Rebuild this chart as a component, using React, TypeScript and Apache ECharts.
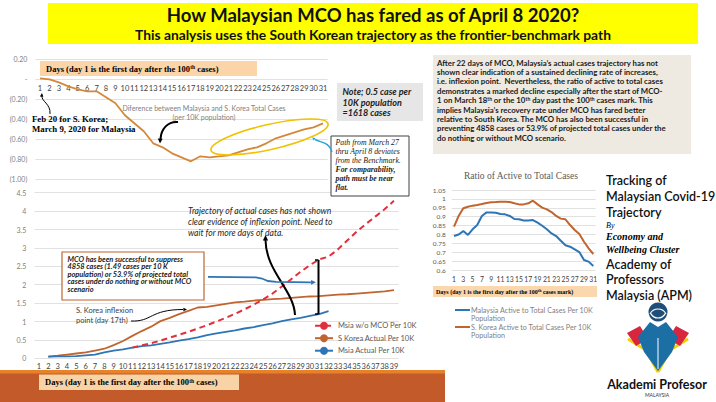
import React, { useEffect, useRef } from 'react';
import * as echarts from 'echarts';

// ---------- data ----------
const daysTop = Array.from({ length: 31 }, (_, i) => String(i + 1));
const daysBottom = Array.from({ length: 39 }, (_, i) => String(i + 1));
const daysRatio = Array.from({ length: 31 }, (_, i) => String(i + 1));

// Difference between Malaysia and S. Korea total cases (per 10K)
const diffValues = [0.01, 0.0, -0.03, -0.07, -0.1, -0.12, -0.12, -0.18, -0.24, -0.36, -0.44, -0.52, -0.64, -0.68, -0.74, -0.78, -0.82, -0.77, -0.78, -0.77, -0.76, -0.73, -0.7, -0.68, -0.64, -0.59, -0.56, -0.53, -0.5, -0.48, -0.44];

// Per 10K cumulative cases
const msiaNoMco = [null, null, null, null, null, null, null, null, null, null, 0.29, 0.35, 0.41, 0.48, 0.56, 0.64, 0.72, 0.81, 0.9, 1.0, 1.1, 1.21, 1.33, 1.46, 1.6, 1.76, 1.95, 2.15, 2.35, 2.53, 2.69, 2.76, 2.96, 3.2, 3.44, 3.65, 3.85, 4.05, 4.28];
const skoreaActual = [null, 0.045, 0.07, 0.1, 0.13, 0.16, 0.21, 0.26, 0.36, 0.47, 0.61, 0.74, 0.86, 1.01, 1.1, 1.2, 1.29, 1.38, 1.4, 1.44, 1.48, 1.52, 1.54, 1.57, 1.59, 1.61, 1.62, 1.64, 1.66, 1.68, 1.69, 1.71, 1.73, 1.74, 1.76, 1.78, 1.8, 1.82, 1.85];
const msiaActual = [null, 0.045, 0.05, 0.05, 0.06, 0.08, 0.1, 0.16, 0.21, 0.24, 0.29, 0.33, 0.35, 0.39, 0.43, 0.48, 0.52, 0.57, 0.63, 0.68, 0.72, 0.76, 0.81, 0.85, 0.9, 0.95, 1.01, 1.06, 1.1, 1.15, 1.2, 1.28];

// Ratio of active to total cases
const ratioMsia = [0.791, 0.8, 0.819, 0.797, 0.829, 0.853, 0.904, 0.924, 0.924, 0.922, 0.915, 0.913, 0.904, 0.887, 0.885, 0.878, 0.878, 0.881, 0.866, 0.849, 0.829, 0.806, 0.791, 0.765, 0.739, 0.731, 0.716, 0.701, 0.656, 0.647, 0.622];
const ratioKorea = [0.844, 0.904, 0.947, 0.956, 0.962, 0.966, 0.971, 0.977, 0.981, 0.982, 0.984, 0.984, 0.982, 0.975, 0.969, 0.969, 0.975, 0.99, 0.969, 0.951, 0.941, 0.926, 0.904, 0.889, 0.885, 0.853, 0.825, 0.802, 0.759, 0.722, 0.69];

const legendNames = ['Msia w/o MCO Per 10K', 'S Korea Actual Per 10K', 'Msia Actual Per 10K'];
const ratioNames = ['Malaysia Active to Total Cases Per 10K Population', 'S. Korea Active to Total Cases Per 10K Population'];

// ---------- styles ----------
const SANS = 'Lato';
const SERIF = 'Liberation Serif';
const C_ORANGE = '#D4883A';
const C_BROWN = '#C0652F';
const C_BLUE = '#2E75B6';
const C_RED = '#E2303A';
const GRID = '#D9D9D9';

function txt(x: number, y: number, text: string, o: any = {}) {
  return {
    type: 'text', x, y, silent: true, z: 50,
    style: {
      text,
      fill: o.fill || '#000',
      fontSize: o.size || 8,
      fontFamily: o.family || SANS,
      fontWeight: o.weight || 'normal',
      fontStyle: o.style || 'normal',
      align: o.align || 'left',
      verticalAlign: o.va || 'middle',
      rich: o.rich,
    },
  };
}
function rect(x: number, y: number, w: number, h: number, style: any, z = 40) {
  return { type: 'rect', silent: true, z, shape: { x, y, width: w, height: h }, style };
}
function head(x: number, y: number, ang: number, size: number, color: string) {
  const a1 = ang + Math.PI - 0.45;
  const a2 = ang + Math.PI + 0.45;
  return {
    type: 'polygon', silent: true, z: 55,
    shape: { points: [[x, y], [x + size * Math.cos(a1), y + size * Math.sin(a1)], [x + size * Math.cos(a2), y + size * Math.sin(a2)]] },
    style: { fill: color },
  };
}
function bez(p: number[], color: string, w: number) {
  return {
    type: 'bezierCurve', silent: true, z: 55,
    shape: { x1: p[0], y1: p[1], cpx1: p[2], cpy1: p[3], cpx2: p[4], cpy2: p[5], x2: p[6], y2: p[7] },
    style: { stroke: color, lineWidth: w, fill: null },
  };
}
function sup(size: number, family: string, weight = 'bold', fill = '#000', style = 'normal') {
  return { s: { fontSize: size, fontFamily: family, fontWeight: weight, fill, fontStyle: style, verticalAlign: 'top' } };
}

const boxText = [
  'After 22 days of MCO, Malaysia\u2019s actual cases trajectory has not',
  'shown clear indication of a sustained declining rate of increases,',
  'i.e. inflexion point.  Nevertheless, the ratio of active to total cases',
  'demonstrates a marked decline especially after the start of MCO-',
  '1 on March 18{s|th} or the 10{s|th} day past the 100{s|th} cases mark. This',
  'implies Malaysia\u2019s recovery rate under MCO has fared better',
  'relative to South Korea. The MCO has also been successful in',
  'preventing 4858 cases or 53.9% of projected total cases under the',
  'do nothing or without MCO scenario.',
];

function buildGraphics() {
  const g: any[] = [];
  // banner
  g.push(rect(48, 3, 650, 41, { fill: '#FFFF00' }, 1));
  g.push(txt(373, 15.2, 'How Malaysian MCO has fared as of April 8 2020?', { size: 18.5, weight: 'bold', align: 'center', fill: '#111' }));
  g.push(txt(373, 34.2, 'This analysis uses the South Korean trajectory as the frontier-benchmark path', { size: 13.8, weight: 'bold', align: 'center', fill: '#111' }));

  // top chart header
  g.push(rect(40, 61, 217, 15, { fill: '#FBD5A8' }));
  g.push(txt(46, 68.5, 'Days (day 1 is the first day after the 100{s|th} cases)', { size: 8.5, family: SERIF, weight: 'bold', rich: sup(5.5, SERIF) }));
  g.push(txt(32, 118.7, 'Feb 20 for S. Korea;', { size: 8.8, family: SERIF, weight: 'bold' }));
  g.push(txt(32, 128.7, 'March 9, 2020 for Malaysia', { size: 8.8, family: SERIF, weight: 'bold' }));
  g.push(bez([50, 114, 51, 104, 41, 101, 42, 96], '#000', 1));
  g.push(head(42, 93, -Math.PI / 2 + 0.1, 4, '#000'));
  g.push(txt(204, 108.3, 'Diference between Malaysia and S. Korea Total Cases', { size: 7, align: 'center', fill: '#808080' }));
  g.push(txt(204, 117.3, '(per 10K population)', { size: 7, align: 'center', fill: '#808080' }));
  g.push(bez([178, 122, 168, 121, 161, 129, 160.5, 139], '#000', 2));
  g.push(head(160, 143.5, Math.PI / 2 + 0.05, 5.5, '#000'));
  g.push({ type: 'ellipse', silent: true, z: 45, x: 269.5, y: 137, rotation: 0.223, shape: { cx: 0, cy: 0, rx: 60, ry: 12.5 }, style: { stroke: '#F2C200', lineWidth: 1.6, fill: null } });
  g.push(bez([315, 139.5, 322, 143, 329, 142, 332, 152], '#29A3DA', 1.5));
  g.push(head(312, 137.5, Math.PI + 0.6, 3.5, '#29A3DA'));
  // note box
  g.push(rect(337, 83, 86, 38, { fill: '#E7E6E6' }));
  g.push(txt(342.5, 91.7, 'Note; 0.5 case per', { size: 9, weight: 'bold', style: 'italic', fill: '#222' }));
  g.push(txt(342.5, 102.3, '10K population', { size: 9, weight: 'bold', style: 'italic', fill: '#222' }));
  g.push(txt(342.5, 112.7, '=1618 cases', { size: 9, weight: 'bold', style: 'italic', fill: '#222' }));
  // path box
  g.push(rect(331, 136, 78, 60, { fill: '#fff', stroke: '#404040', lineWidth: 1 }));
  const pathLines = ['Path from March 27', 'thru April 8 deviates', 'from the Benchmark.', 'For comparability,', 'path must be near', 'flat.'];
  pathLines.forEach((l, i) => g.push(txt(335.5, 142.7 + i * 9, l, { size: 7.8, family: SERIF, style: 'italic', weight: i >= 3 ? 'bold' : 'normal', fill: '#222' })));

  // bottom chart annotations
  const traj = ['Trajectory of actual cases has not shown', 'clear evidence of inflexion point. Need to', 'wait for more days of data.'];
  traj.forEach((l, i) => g.push(txt(188, 211 + i * 10.8, l, { size: 8.6, style: 'italic', fill: '#262626' })));
  g.push(bez([295, 315, 294, 290, 266, 272, 265.5, 240], '#000', 2));
  g.push(head(265.5, 235, -Math.PI / 2, 6, '#000'));
  g.push({ type: 'line', silent: true, z: 55, shape: { x1: 318.5, y1: 260, x2: 318.5, y2: 314 }, style: { stroke: '#000', lineWidth: 2 } });
  g.push({ type: 'line', silent: true, z: 55, shape: { x1: 315, y1: 260, x2: 318.5, y2: 260 }, style: { stroke: '#000', lineWidth: 1.5 } });
  g.push({ type: 'line', silent: true, z: 55, shape: { x1: 315, y1: 314, x2: 318.5, y2: 314 }, style: { stroke: '#000', lineWidth: 1.5 } });
  g.push({ type: 'polyline', silent: true, z: 55, shape: { points: [[208, 276.8], [256, 277.3], [262, 278.5], [268, 281], [276, 281.8], [311, 282.3]] }, style: { stroke: C_BLUE, lineWidth: 1.8, fill: null } });
  g.push(head(316, 282.3, 0, 5.5, C_BLUE));
  // MCO box
  g.push(rect(62, 252, 142, 48, { fill: '#fff', stroke: C_BROWN, lineWidth: 1.2 }));
  const mco = ['MCO has been successful to suppress', '4858 cases (1.49 cases per 10 K', 'population) or 53.9% of projected total', 'cases under do nothing or without MCO', 'scenario'];
  mco.forEach((l, i) => g.push(txt(67.5, 259 + i * 7.6, l, { size: 7.4, weight: 'bold', style: 'italic', fill: '#1a1a1a' })));
  g.push(txt(76, 310, 'S. Korea inflexion', { size: 7.5, fill: '#404040' }));
  g.push(txt(76, 320.7, 'point (day 17th)', { size: 7.5, fill: '#404040' }));
  g.push(bez([131, 321, 152, 322, 150, 309.5, 183, 309.5], '#000', 1));
  g.push(head(187, 309.5, 0, 4, '#000'));

  // bottom band
  g.push(rect(0, 370, 445, 4, { fill: '#E8822A' }, 5));
  g.push(rect(0, 373.5, 445, 28.5, { fill: '#C35A29' }, 5));
  g.push(rect(39, 374.5, 200, 15.5, { fill: '#F8D3A5' }, 6));
  g.push(txt(45, 382, 'Days (day 1 is the first day after the 100{s|th} cases)', { size: 8.5, family: SERIF, weight: 'bold', rich: sup(5.5, SERIF) }));

  // right text box
  g.push(rect(433, 55, 258, 99, { fill: '#EEE9E1' }, 5));
  boxText.forEach((l, i) => g.push(txt(437, 62.5 + i * 9.4, l, { size: 7.8, weight: 'bold', fill: '#1a1a1a', rich: sup(5, SANS, 'bold', '#1a1a1a') })));

  // ratio chart
  g.push(txt(521, 176, 'Ratio of Active to Total Cases', { size: 9.5, family: SERIF, align: 'center', fill: '#595959' }));
  g.push(rect(433, 286, 164, 11, { fill: '#FAD7AC' }));
  g.push(txt(436, 291.5, 'Days (day 1 is the first day after the 100{s|th} cases mark)', { size: 6, family: SERIF, weight: 'bold', rich: sup(4, SERIF) }));
  // ratio legend
  g.push({ type: 'line', silent: true, z: 50, shape: { x1: 455, y1: 310, x2: 470, y2: 310 }, style: { stroke: C_BLUE, lineWidth: 2 } });
  g.push(txt(471, 310, 'Malaysia Active to Total Cases Per 10K', { size: 7.2, fill: '#7F7F7F' }));
  g.push(txt(471, 318, 'Population', { size: 7.2, fill: '#7F7F7F' }));
  g.push({ type: 'line', silent: true, z: 50, shape: { x1: 455, y1: 327, x2: 470, y2: 327 }, style: { stroke: C_BROWN, lineWidth: 2 } });
  g.push(txt(471, 327, 'S. Korea Active to Total Cases Per 10K', { size: 7.2, fill: '#7F7F7F' }));
  g.push(txt(471, 335, 'Population', { size: 7.2, fill: '#7F7F7F' }));

  // tracking block
  const big = { size: 12.5, weight: 600, fill: '#111' };
  g.push(txt(606, 180, 'Tracking of', big));
  g.push(txt(606, 196, 'Malaysian Covid-19', big));
  g.push(txt(606, 212, 'Trajectory', big));
  g.push(txt(606, 225, 'By', { size: 8, family: SERIF, style: 'italic' }));
  g.push(txt(606, 236.5, 'Economy and', { size: 10, family: SERIF, style: 'italic', weight: 'bold' }));
  g.push(txt(606, 249, 'Wellbeing Cluster', { size: 10, family: SERIF, style: 'italic', weight: 'bold' }));
  g.push(txt(606, 264, 'Academy of', big));
  g.push(txt(606, 279.5, 'Professors', big));
  g.push(txt(606, 295, 'Malaysia (APM)', big));

  // logo
  g.push({ type: 'polyline', silent: true, z: 48, shape: { points: [[628, 339], [646, 350], [658, 372]] }, style: { stroke: '#F4D000', lineWidth: 3, fill: null } });
  g.push({ type: 'polyline', silent: true, z: 48, shape: { points: [[688, 339], [670, 350], [658, 372]] }, style: { stroke: '#F4D000', lineWidth: 3, fill: null } });
  g.push({ type: 'polygon', silent: true, z: 49, shape: { points: [[627, 333], [640, 326], [648, 339], [636, 346]] }, style: { fill: '#D7263D' } });
  g.push({ type: 'polygon', silent: true, z: 49, shape: { points: [[689, 333], [676, 326], [668, 339], [680, 346]] }, style: { fill: '#D7263D' } });
  g.push({ type: 'polygon', silent: true, z: 50, shape: { points: [[638, 337], [650, 322], [658, 327], [666, 322], [678, 337], [672, 352], [658, 371], [644, 352]] }, style: { fill: '#1B6FA5' } });
  g.push({ type: 'line', silent: true, z: 51, shape: { x1: 658, y1: 338, x2: 658, y2: 369 }, style: { stroke: '#fff', lineWidth: 1 } });
  g.push({ type: 'circle', silent: true, z: 52, shape: { cx: 658, cy: 312, r: 9.5 }, style: { fill: '#1F4E79' } });
  g.push({ type: 'arc', silent: true, z: 53, shape: { cx: 658, cy: 318, r: 9, startAngle: Math.PI * 1.15, endAngle: Math.PI * 1.85 }, style: { stroke: '#fff', lineWidth: 1.2, fill: null } });
  g.push({ type: 'arc', silent: true, z: 53, shape: { cx: 658, cy: 310, r: 8, startAngle: Math.PI * 0.15, endAngle: Math.PI * 0.85 }, style: { stroke: '#fff', lineWidth: 1.2, fill: null } });
  g.push(txt(657, 384, 'Akademi Profesor', { size: 12.5, weight: 'bold', align: 'center', fill: '#111' }));
  g.push(txt(657, 394.5, 'MALAYSIA', { size: 5, align: 'center', fill: '#333' }));
  return g;
}

const axisLbl = (extra: any = {}) => ({ fontSize: 7.5, color: '#404040', fontFamily: SANS, ...extra });
const splitLine = { show: true, lineStyle: { color: GRID, width: 0.8 } };
const hiddenLine = { show: false };

const option: any = {
  animation: false,
  backgroundColor: '#fff',
  grid: [
    { left: 35.3, top: 59.3, width: 292.4, height: 120, outerBoundsMode: 'none' },
    { left: 34.3, top: 192.7, width: 364.3, height: 165.6, outerBoundsMode: 'none' },
    { left: 451.7, top: 190, width: 143.9, height: 80, outerBoundsMode: 'none' },
    // label strip of the top chart: its day axis sits on the zero line
    { left: 35.3, top: 78.3, width: 292.4, height: 1, outerBoundsMode: 'none' },
  ],
  xAxis: [
    { gridIndex: 0, type: 'category', data: daysTop, axisLine: hiddenLine, axisTick: hiddenLine, axisLabel: { show: false }, splitLine: hiddenLine },
    { gridIndex: 1, type: 'category', data: daysBottom, axisLine: hiddenLine, axisTick: hiddenLine, axisLabel: axisLbl({ interval: 0, margin: 4 }), splitLine: hiddenLine },
    { gridIndex: 2, type: 'category', data: daysRatio, axisLine: hiddenLine, axisTick: hiddenLine, axisLabel: axisLbl({ interval: 1, margin: 5, fontSize: 6.8 }), splitLine: hiddenLine },
    { gridIndex: 3, type: 'category', data: daysTop, position: 'bottom', axisLine: hiddenLine, axisTick: hiddenLine, axisLabel: axisLbl({ interval: 0, margin: 5 }), splitLine: hiddenLine },
  ],
  yAxis: [
    {
      gridIndex: 0, type: 'value', min: -1, max: 0.2, interval: 0.2,
      axisLine: hiddenLine, axisTick: hiddenLine, splitLine,
      axisLabel: axisLbl({ color: '#7F7F7F', fontSize: 7, margin: 8, formatter: (v: number) => { const r = Math.round(v * 100) / 100; if (r === 0) return '-'; if (r < 0) return '(' + (-r).toFixed(2) + ')'; return r.toFixed(2); } }),
    },
    {
      gridIndex: 1, type: 'value', min: 0, max: 4.5, interval: 0.5,
      axisLine: hiddenLine, axisTick: hiddenLine, splitLine,
      axisLabel: axisLbl({ color: '#7F7F7F', fontSize: 7, margin: 8, formatter: (v: number) => String(Math.round(v * 10) / 10) }),
    },
    {
      gridIndex: 2, type: 'value', min: 0.6, max: 1.05, interval: 0.05,
      axisLine: hiddenLine, axisTick: hiddenLine, splitLine,
      axisLabel: axisLbl({ color: '#595959', fontSize: 6.5, margin: 6, formatter: (v: number) => String(Math.round(v * 100) / 100) }),
    },
    { gridIndex: 3, type: 'value', show: false, min: 0, max: 1 },
  ],
  legend: [{
    data: legendNames, orient: 'vertical', left: 309, top: 316.7, itemWidth: 18, itemHeight: 10, itemGap: 4.5,
    textStyle: { fontSize: 7.5, color: '#595959', fontFamily: SANS }, selectedMode: false,
  }],
  series: [
    { name: 'Diff', type: 'line', xAxisIndex: 0, yAxisIndex: 0, data: diffValues, symbol: 'none', lineStyle: { color: C_ORANGE, width: 1.8 }, itemStyle: { color: C_ORANGE }, z: 3 },
    { name: legendNames[0], type: 'line', xAxisIndex: 1, yAxisIndex: 1, data: msiaNoMco, symbol: 'none', lineStyle: { color: C_RED, width: 2, type: [6, 4] }, itemStyle: { color: C_RED }, z: 4 },
    { name: legendNames[1], type: 'line', xAxisIndex: 1, yAxisIndex: 1, data: skoreaActual, symbol: 'none', lineStyle: { color: C_BROWN, width: 1.8 }, itemStyle: { color: C_BROWN }, z: 3 },
    { name: legendNames[2], type: 'line', xAxisIndex: 1, yAxisIndex: 1, data: msiaActual, symbol: 'none', lineStyle: { color: C_BLUE, width: 1.8 }, itemStyle: { color: C_BLUE }, z: 3 },
    { name: ratioNames[0], type: 'line', xAxisIndex: 2, yAxisIndex: 2, data: ratioMsia, symbol: 'none', lineStyle: { color: C_BLUE, width: 2 }, itemStyle: { color: C_BLUE }, z: 3 },
    { name: ratioNames[1], type: 'line', xAxisIndex: 2, yAxisIndex: 2, data: ratioKorea, symbol: 'none', lineStyle: { color: C_BROWN, width: 2 }, itemStyle: { color: C_BROWN }, z: 3 },
  ],
  graphic: { elements: buildGraphics() },
};

export default function App() {
  const ref = useRef<HTMLDivElement>(null);
  useEffect(() => {
    const chart = echarts.init(ref.current!, null, { renderer: 'svg' });
    chart.setOption(option);
    return () => chart.dispose();
  }, []);
  return <div ref={ref} style={{ position: 'fixed', left: 0, top: 0, width: 716, height: 402, background: '#fff' }} />;
}
